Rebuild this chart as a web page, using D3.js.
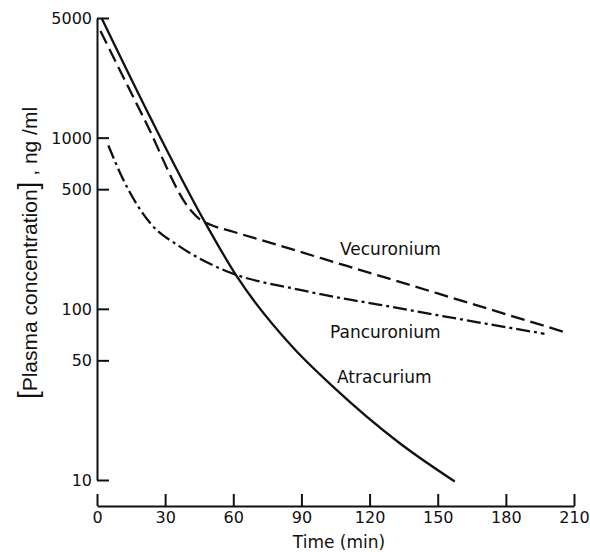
<!DOCTYPE html>
<html>
<head>
<meta charset="utf-8">
<script src="https://cdn.jsdelivr.net/npm/d3@7"></script>
<style>
    body { margin: 0; background: #fff; }
    text { font-family: "DejaVu Sans", sans-serif; fill: #111; }
</style>
</head>
<body>
<svg id="chart"></svg>
<script>
// data (time in min, concentration in ng/ml)
const atracuriumTime = [2, 24, 47, 61.5, 86, 104, 133, 157.5];
const atracuriumConc = [5000, 1270, 330, 155, 60, 35, 16.5, 9.8];

const vecuroniumTime = [1.5, 21, 41, 45, 50, 60, 80, 110, 150, 207.5];
const vecuroniumConc = [4200, 1270, 380, 335, 310, 282, 235, 178, 123, 72];

const pancuroniumTime = [5, 11.6, 23.3, 36.5, 55.5, 89.4, 111.4, 124.6, 161.3, 197];
const pancuroniumConc = [900, 567, 318, 231, 169, 129, 113, 105.5, 86.3, 71.5];

const xTicks = [0, 30, 60, 90, 120, 150, 180, 210];
const yTicks = [10, 50, 100, 500, 1000, 5000];

const seriesNames = ["Atracurium", "Vecuronium", "Pancuronium"];

function drawChart() {
    const svg = d3.select("#chart")
        .attr("width", 590)
        .attr("height", 552);

    const xScale = d3.scaleLinear().domain([0, 210]).range([97, 574]);
    const yScale = d3.scaleLog().domain([10, 5000]).range([480, 18]);

    //ось oy
    const yAxis = svg.append("g")
        .attr("transform", "translate(97,0)")
        .call(d3.axisLeft(yScale)
            .tickValues(yTicks)
            .tickFormat(d3.format("d"))
            .tickSizeInner(-12)
            .tickSizeOuter(0)
            .tickPadding(5));
    yAxis.selectAll("text").style("font-size", "16px").attr("dy", "0.35em");
    yAxis.selectAll("line, path").attr("stroke", "#111").attr("stroke-width", 2);

    //ось ox
    const xAxis = svg.append("g")
        .attr("transform", "translate(0,506)")
        .call(d3.axisBottom(xScale)
            .tickValues(xTicks)
            .tickSizeInner(-12)
            .tickSizeOuter(0)
            .tickPadding(6));
    xAxis.selectAll("text").style("font-size", "16px");
    xAxis.selectAll("line, path").attr("stroke", "#111").attr("stroke-width", 2);

    //подписи осей
    svg.append("text")
        .attr("x", 339)
        .attr("y", 548)
        .attr("text-anchor", "middle")
        .style("font-size", "17px")
        .text("Time (min)");

    const yLabel = svg.append("text")
        .attr("transform", "translate(37,253) rotate(-90)")
        .attr("text-anchor", "middle")
        .style("font-family", "'Liberation Sans', Arial, sans-serif")
        .style("font-size", "21px");
    yLabel.append("tspan").style("font-size", "28px").text("[");
    yLabel.append("tspan").text("Plasma concentration");
    yLabel.append("tspan").style("font-size", "28px").text("]");
    yLabel.append("tspan").text(" , ng /ml");

    //кривые
    const line = d3.line()
        .x(d => xScale(d[0]))
        .y(d => yScale(d[1]))
        .curve(d3.curveMonotoneX);

    const series = [
        { time: atracuriumTime, conc: atracuriumConc, dash: null },
        { time: vecuroniumTime, conc: vecuroniumConc, dash: "14,6" },
        { time: pancuroniumTime, conc: pancuroniumConc, dash: "14,4,3,4" }
    ];

    series.forEach(s => {
        svg.append("path")
            .datum(d3.zip(s.time, s.conc))
            .attr("d", line)
            .attr("fill", "none")
            .attr("stroke", "#111")
            .attr("stroke-width", 2.3)
            .attr("stroke-dasharray", s.dash);
    });

    //подписи кривых
    const labelPos = [[337, 383], [340, 255], [330, 338]];
    seriesNames.forEach((name, i) => {
        svg.append("text")
            .attr("x", labelPos[i][0])
            .attr("y", labelPos[i][1])
            .style("font-size", "17px")
            .text(name);
    });
}

drawChart();
</script>
</body>
</html>
